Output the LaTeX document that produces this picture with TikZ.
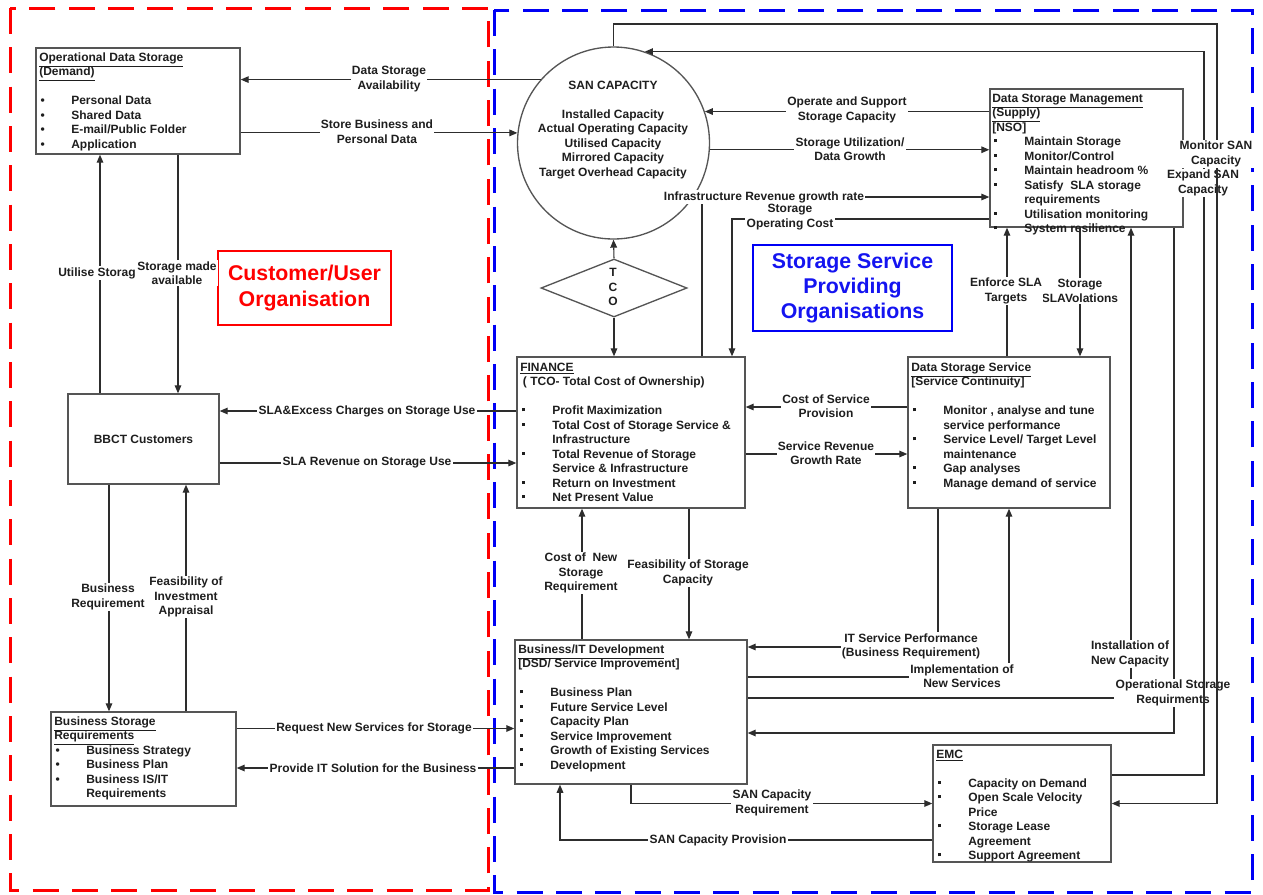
\documentclass[tikz,border=0pt]{standalone}
\usepackage{fontspec}
\setmainfont{Liberation Sans}
\usetikzlibrary{arrows.meta,shapes.geometric}
\definecolor{txtc}{RGB}{30,30,30}
\definecolor{boxc}{RGB}{85,85,85}
\definecolor{linec}{RGB}{45,45,45}
\definecolor{redc}{RGB}{255,0,0}
\definecolor{bluec}{RGB}{0,0,245}
\definecolor{bluet}{RGB}{20,20,240}
\newcommand\mybul{\makebox[24pt][l]{\hspace{1pt}\textbullet}}
\newcommand\mysq{\makebox[24pt][l]{\hspace{1pt}\rule[2.6pt]{2.3pt}{2.3pt}}}
\newcommand\myind{\hspace*{24pt}}
\begin{document}
\begin{tikzpicture}[x=0.75pt,y=-0.75pt,
  every node/.style={font=\fontsize{9}{10.875}\selectfont\bfseries, text=txtc},
  box/.style={draw=boxc, line width=1.1pt, rectangle, inner sep=0pt},
  txt/.style={anchor=north west, inner sep=0pt, align=left},
  lbl/.style={fill=white, inner sep=1pt, align=center},
  ln/.style={draw=linec, line width=0.8pt},
  arr/.style={ln, -{Triangle[length=6pt,width=5pt]}},
  frame/.style={line width=2.25pt, dash pattern=on 19.5pt off 10pt}
]
\useasboundingbox (0,0) rectangle (1263,894);
% frames
\draw[frame, draw=redc] (10,8) rectangle (488,890);
\draw[frame, draw=bluec] (494,10) rectangle (1252,892);

% boxes
\node[box, minimum width=153pt, minimum height=79.5pt] (ods) at (138,101) {};
\node[box, minimum width=113.25pt, minimum height=67.5pt] (bbct) at (143.5,439) {BBCT Customers};
\node[box, minimum width=138.75pt, minimum height=70.5pt] (bsr) at (143.5,759) {};
\node[draw=boxc, line width=1pt, circle, minimum size=144pt, inner sep=0pt] (san) at (613.5,143) {};
\node[draw=boxc, line width=1pt, diamond, minimum width=109.5pt, minimum height=43.5pt, inner sep=0pt] (tco) at (614,288) {};
\node[box, minimum width=171pt, minimum height=113.25pt] (fin) at (631,432.5) {};
\node[box, minimum width=144.75pt, minimum height=103.5pt] (dsm) at (1086.5,158) {};
\node[box, minimum width=151.5pt, minimum height=113.25pt] (dss) at (1009,432.5) {};
\node[box, minimum width=174pt, minimum height=108pt] (bit) at (631,712) {};
\node[box, minimum width=133.5pt, minimum height=87.75pt] (emc) at (1022,803.5) {};
\node[draw=redc, line width=1.5pt, minimum width=129.75pt, minimum height=55.5pt, align=center,
  font=\fontsize{16}{19.5}\selectfont\bfseries, text=redc] (cust) at (304.5,288) {Customer/User\\Organisation};
\node[draw=bluec, line width=1.5pt, minimum width=149.25pt, minimum height=64.5pt, align=center,
  font=\fontsize{16}{18.75}\selectfont\bfseries, text=bluet] (sspo) at (852.5,288) {Storage Service\\Providing\\Organisations};

% box texts
\node[txt] (odst) at (39,51) {\strut\underline{Operational Data Storage}\\\underline{(Demand)}\\[10.875pt]\mybul Personal Data\\\mybul Shared Data\\\mybul E-mail/Public Folder\\\mybul Application};
\node[txt] (bsrt) at (54,715) {\strut\underline{Business Storage}\\\underline{Requirements}\\\mybul Business Strategy\\\mybul Business Plan\\\mybul Business IS/IT\\\myind Requirements};
\node[anchor=north, inner sep=0pt, align=center] (sant) at (613,79) {\strut SAN CAPACITY\\[10.875pt]Installed Capacity\\Actual Operating Capacity\\Utilised Capacity\\Mirrored Capacity\\Target Overhead Capacity};
\node[inner sep=0pt, align=center] (tcot) at (613,287) {T\\C\\O};
\node[txt] (fint) at (520,361) {\strut\underline{FINANCE}\\\hspace*{2pt}( TCO- Total Cost of Ownership)\\[10.875pt]\mysq Profit Maximization\\\mysq Total Cost of Storage Service \&\\\myind Infrastructure\\\mysq Total Revenue of Storage\\\myind Service \& Infrastructure\\\mysq Return on Investment\\\mysq Net Present Value};
\node[txt] (dsmt) at (992,92) {\strut\underline{Data Storage Management}\\\underline{(Supply)}\\{[NSO]}\\\mysq Maintain Storage\\\mysq Monitor/Control\\\mysq Maintain headroom \%\\\mysq Satisfy\ \ SLA storage\\\myind requirements\\\mysq Utilisation monitoring\\\mysq System resilience};
\node[txt] (dsst) at (911,361) {\strut\underline{Data Storage Service}\\{[Service Continuity]}\\[10.875pt]\mysq Monitor , analyse and tune\\\myind service performance\\\mysq Service Level/ Target Level\\\myind maintenance\\\mysq Gap analyses\\\mysq Manage demand of service};
\node[txt] (bitt) at (518,643) {\strut\underline{Business/IT Development}\\{[DSD/ Service Improvement]}\\[10.875pt]\mysq Business Plan\\\mysq Future Service Level\\\mysq Capacity Plan\\\mysq Service Improvement\\\mysq Growth of Existing Services\\\mysq Development};
\node[txt] (emct) at (936,748) {\strut\underline{EMC}\\[10.875pt]\mysq Capacity on Demand\\\mysq Open Scale Velocity\\\myind Price\\\mysq Storage Lease\\\myind Agreement\\\mysq Support Agreement};

% connectors, customer side
\draw[arr] (san.139) -- (ods.east |- san.139);
\draw[arr] (ods.east |- san.174) -- (san.174);
\draw[arr] (100,0 |- bbct.north) -- (100,0 |- ods.south);
\draw[arr] (178,0 |- ods.south) -- (178,0 |- bbct.north);
\draw[arr] (fin.west |- 0,411) -- (bbct.east |- 0,411);
\draw[arr] (bbct.east |- 0,463) -- (fin.west |- 0,463);
\draw[arr] (109,0 |- bbct.south) -- (109,0 |- bsr.north);
\draw[arr] (186,0 |- bsr.north) -- (186,0 |- bbct.south);
\draw[arr] (bsr.east |- 0,728.5) -- (bit.west |- 0,728.5);
\draw[arr] (bit.west |- 0,768) -- (bsr.east |- 0,768);
% provider side
\draw[arr] (tco.north) -- (san.south);
\draw[arr] (tco.south) -- (tco.south |- fin.north);
\draw[arr] (dsm.west |- san.19) -- (san.19);
\draw[arr] (san.-4) -- (dsm.west |- san.-4);
\draw[arr] (702,0 |- fin.north) |- (dsm.west |- 0,197);
\draw[arr] (dsm.west |- 0,219) -| (732,0 |- fin.north);
\draw[arr] (1007,0 |- dss.north) -- (1007,0 |- dsm.south);
\draw[arr] (1080,0 |- dsm.south) -- (1080,0 |- dss.north);
\draw[arr] (dss.west |- 0,407) -- (fin.east |- 0,407);
\draw[arr] (fin.east |- 0,454) -- (dss.west |- 0,454);
\draw[arr] (582,0 |- bit.north) -- (582,0 |- fin.south);
\draw[arr] (689,0 |- fin.south) -- (689,0 |- bit.north);
\draw[arr] (938,0 |- dss.south) |- (bit.east |- 0,647);
\draw[arr] (bit.east |- 0,677) -| (dss.south);
\draw[arr] (bit.east |- 0,698) -| (1131,0 |- dsm.south);
\draw[arr] (1174,0 |- dsm.south) |- (bit.east |- 0,733);
\draw[arr] (bit.south) |- (emc.west);
\draw[arr] (emc.west |- 0,840) -| (560,0 |- bit.south);

% labels
\node[lbl] (l1) at (389,79) {Data Storage\\Availability};
\node[lbl] (l2) at (377,131.5) {Store Business and\\Personal Data};
\node[lbl] (l3) at (97,273) {Utilise Storag};
\node[lbl] (l4) at (177,273) {Storage made\\available};
\node[lbl] (l5) at (367,411) {SLA\&Excess Charges on Storage Use};
\node[lbl] (l6) at (367,463) {SLA Revenue on Storage Use};
\node[lbl] (l7) at (108,597) {Business\\Requirement};
\node[lbl] (l8) at (186,597) {Feasibility of\\Investment\\Appraisal};
\node[lbl] (l9) at (374,728.5) {Request New Services for Storage};
\node[lbl] (l10) at (373,768) {Provide IT Solution for the Business};
\node[lbl] (l11) at (847,110) {Operate and Support\\Storage Capacity};
\node[lbl] (l12) at (850,149) {Storage Utilization/\\Data Growth};
\node[lbl] (l13) at (764,197) {Infrastructure Revenue growth rate};
\node[lbl] (l14) at (790,217) {Storage\\Operating Cost};
\node[lbl] (l15) at (1080,291) {Storage\\SLAVolations};
\node[lbl] (l16) at (1006,291) {Enforce SLA\\Targets};
\node[lbl] (l17) at (826,406) {Cost of Service\\Provision};
\node[lbl] (l18) at (826,453) {Service Revenue\\Growth Rate};
\node[lbl] (l19) at (581,573) {Cost of\ \ New\\Storage\\Requirement};
\node[lbl] (l20) at (688,573) {Feasibility of Storage\\Capacity};
\node[lbl] (l21) at (911,646.5) {IT Service Performance\\(Business Requirement)};
\node[lbl] (l22) at (962,676) {Implementation of\\New Services};
\node[lbl] (l23) at (1130,654) {Installation of\\New Capacity};
\node[lbl] (l24) at (1173,693) {Operational Storage\\Requirments};
\node[lbl] (l25) at (772,803) {SAN Capacity\\Requirement};
\node[lbl] (l26) at (718,840) {SAN Capacity Provision};

% outer loops
\draw[arr] (emc.east |- 0,775) -| (1204,0 |- san.71) -- (san.71);
\node[lbl] (l27) at (1203,183) {Expand SAN\\Capacity};
\draw[arr] (san.north) |- (1217,24) |- (emc.east);
\node[lbl] (l28) at (1216,154) {Monitor SAN\\Capacity};
\end{tikzpicture}
\end{document}
